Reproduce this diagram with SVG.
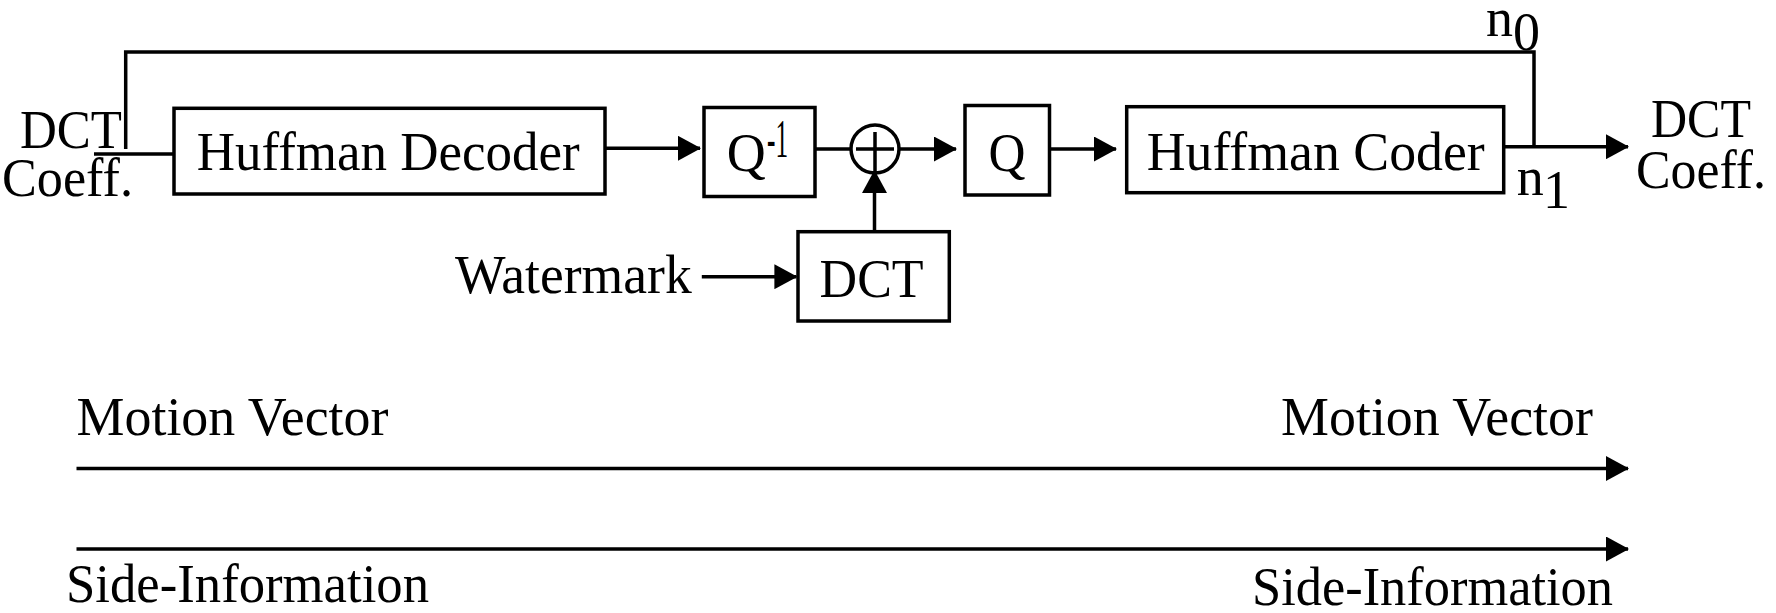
<svg xmlns="http://www.w3.org/2000/svg" width="1776" height="613" viewBox="0 0 1776 613">
<style>
.box{fill:#fff;stroke:#000;stroke-width:3.5}
.ln{fill:none;stroke:#000;stroke-width:3.5}
.arr{fill:none;stroke:#000;stroke-width:3.5;marker-end:url(#ah)}
text{font-family:"Liberation Serif","Times New Roman",serif;font-size:54px;fill:#000}
</style>
<defs>
<marker id="ah" markerUnits="userSpaceOnUse" markerWidth="23" markerHeight="25" refX="22" refY="12.5" orient="auto">
<path d="M0,0 L23,12.5 L0,25 z" fill="#000"/>
</marker>
</defs>
<rect width="1776" height="613" fill="#fff"/>
<g id="connectors">
<path class="ln" d="M94,154 H174"/>
<path class="ln" d="M125.7,149 V52 H1534 V147"/>
<path class="arr" d="M585,148.3 H700"/>
<path class="ln" d="M815,149 H851"/>
<path class="arr" d="M899,149 H956"/>
<path class="arr" d="M1037,149 H1116"/>
<path class="arr" d="M1488,146.7 H1628"/>
<path class="arr" d="M874.5,232 V171"/>
<path class="arr" d="M701.8,276.7 H796.4"/>
<path class="arr" d="M76.5,468.5 H1628"/>
<path class="arr" d="M76.5,549 H1628"/>
</g>
<g id="input-label">
<text x="20" y="148" textLength="102" lengthAdjust="spacingAndGlyphs">DCT</text>
<text x="2" y="196" textLength="131" lengthAdjust="spacingAndGlyphs">Coeff.</text>
</g>
<g id="huffman-decoder">
<rect class="box" x="174" y="108.3" width="431" height="85.7"/>
<text x="196.7" y="170" textLength="383" lengthAdjust="spacingAndGlyphs">Huffman Decoder</text>
</g>
<g id="dequantizer">
<rect class="box" x="704" y="107.5" width="111" height="89"/>
<text x="726.7" y="171" textLength="39" lengthAdjust="spacingAndGlyphs">Q</text>
<text x="767" y="156.7" font-size="30" textLength="21" lengthAdjust="spacingAndGlyphs">-1</text>
</g>
<g id="adder">
<circle cx="875" cy="149" r="24" fill="none" stroke="#000" stroke-width="3.5"/>
<path class="ln" d="M856,149 H894 M875,132 V172"/>
</g>
<g id="dct">
<rect class="box" x="798" y="231.7" width="151.3" height="89.3"/>
<text x="819.6" y="296.7" textLength="104" lengthAdjust="spacingAndGlyphs">DCT</text>
</g>
<g id="watermark">
<text x="455" y="293.3" textLength="236.7" lengthAdjust="spacingAndGlyphs">Watermark</text>
</g>
<g id="quantizer">
<rect class="box" x="965" y="105.5" width="84.5" height="89.5"/>
<text x="988.5" y="171" textLength="37" lengthAdjust="spacingAndGlyphs">Q</text>
</g>
<g id="huffman-coder">
<rect class="box" x="1126.7" y="106.7" width="377" height="86"/>
<text x="1146.7" y="170" textLength="338" lengthAdjust="spacingAndGlyphs">Huffman Coder</text>
</g>
<g id="switch-labels">
<text x="1486" y="36" font-size="52">n</text>
<text x="1513" y="50" font-size="28">0</text>
<text x="1516.7" y="195" font-size="52">n</text>
<text x="1543" y="208" font-size="31">1</text>
</g>
<g id="output-label">
<text x="1651" y="136.7" textLength="100" lengthAdjust="spacingAndGlyphs">DCT</text>
<text x="1636" y="188.3" textLength="130" lengthAdjust="spacingAndGlyphs">Coeff.</text>
</g>
<g id="motion-vector">
<text x="76.5" y="435" textLength="312" lengthAdjust="spacingAndGlyphs">Motion Vector</text>
<text x="1281" y="435" textLength="312" lengthAdjust="spacingAndGlyphs">Motion Vector</text>
</g>
<g id="side-information">
<text x="66" y="601.7" textLength="363" lengthAdjust="spacingAndGlyphs">Side-Information</text>
<text x="1252" y="605" textLength="361" lengthAdjust="spacingAndGlyphs">Side-Information</text>
</g>
</svg>
